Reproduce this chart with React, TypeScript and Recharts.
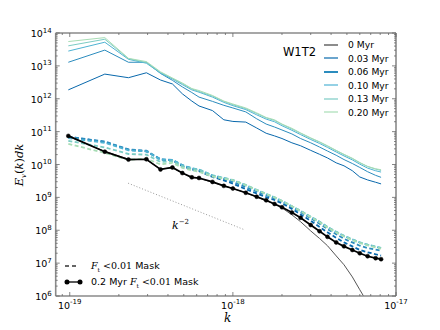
import React from "react";
import { LineChart, Line, XAxis, YAxis } from "recharts";

// bin centres of k
const K = [
  0.98e-19, 1.64e-19, 2.29e-19, 2.95e-19, 3.6e-19, 4.26e-19, 4.9e-19, 5.6e-19,
  6.2e-19, 7.5e-19, 8.8e-19, 1.0e-18, 1.2e-18, 1.4e-18, 1.6e-18, 1.8e-18,
  2.0e-18, 2.3e-18, 2.6e-18, 3.0e-18, 3.4e-18, 3.8e-18, 4.3e-18, 4.8e-18,
  5.4e-18, 6.0e-18, 6.7e-18, 7.5e-18, 8.1e-18,
];

// all spectra below are log10(E_v(k) dk)
// full box, solid lines
const FULL_0 = [10.86, 10.4, 10.16, 10.15, 9.86, 9.9, 9.74, 9.6, 9.58, 9.46, 9.35, 9.27, 9.14, 9.01, 8.9, 8.79, 8.68, 8.47, 8.26, 7.98, 7.75, 7.53, 7.22, 6.95, 6.58, 6.19, 5.79, null, null];
const FULL_003 = [12.27, 12.75, 12.64, 12.79, 12.57, 12.45, 12.15, 11.93, 11.78, 11.64, 11.36, 11.31, 11.29, 11.11, 10.95, 10.87, 10.79, 10.66, 10.57, 10.43, 10.31, 10.2, 10.05, 9.96, 9.81, 9.62, 9.53, 9.46, 9.41];
const FULL_006 = [13.11, 13.48, 13.11, 13.11, 12.77, 12.56, 12.36, 12.19, 12.05, 11.92, 11.8, 11.72, 11.6, 11.39, 11.23, 11.14, 11.05, 10.93, 10.79, 10.66, 10.53, 10.41, 10.28, 10.15, 10.03, 9.91, 9.78, 9.67, 9.61];
const FULL_010 = [13.45, 13.72, 13.2, 13.08, 12.78, 12.6, 12.43, 12.27, 12.2, 12.05, 11.89, 11.79, 11.67, 11.51, 11.38, 11.3, 11.18, 11.04, 10.91, 10.76, 10.64, 10.52, 10.38, 10.26, 10.14, 10.01, 9.89, 9.81, 9.77];
const FULL_013 = [13.61, 13.81, 13.22, 13.1, 12.8, 12.62, 12.46, 12.3, 12.22, 12.08, 11.92, 11.82, 11.7, 11.55, 11.42, 11.34, 11.22, 11.08, 10.95, 10.8, 10.68, 10.56, 10.42, 10.3, 10.18, 10.05, 9.94, 9.86, 9.82];
const FULL_020 = [13.74, 13.86, 13.23, 13.13, 12.82, 12.63, 12.48, 12.31, 12.25, 12.1, 11.93, 11.84, 11.72, 11.57, 11.43, 11.36, 11.23, 11.1, 10.96, 10.81, 10.69, 10.57, 10.43, 10.31, 10.19, 10.06, 9.94, 9.87, 9.84];

// F_t < 0.01 mask, dashed lines
const MASK_003 = [10.85, 10.68, 10.45, 10.4, 10.15, 10.12, 9.95, 9.85, 9.8, 9.62, 9.52, 9.42, 9.25, 9.12, 9.01, 8.92, 8.82, 8.65, 8.48, 8.29, 8.1, 7.94, 7.77, 7.63, 7.51, 7.4, 7.33, 7.27, 7.23];
const MASK_006 = [10.84, 10.7, 10.46, 10.42, 10.16, 10.14, 9.98, 9.88, 9.83, 9.66, 9.56, 9.47, 9.31, 9.18, 9.07, 8.97, 8.87, 8.71, 8.55, 8.37, 8.2, 8.04, 7.88, 7.74, 7.63, 7.53, 7.46, 7.41, 7.38];
const MASK_010 = [10.8, 10.66, 10.43, 10.4, 10.15, 10.14, 9.98, 9.89, 9.85, 9.67, 9.59, 9.52, 9.37, 9.22, 9.1, 9.0, 8.89, 8.73, 8.59, 8.41, 8.26, 8.1, 7.95, 7.83, 7.72, 7.63, 7.56, 7.5, 7.46];
const MASK_013 = [10.72, 10.52, 10.32, 10.3, 10.08, 10.1, 9.95, 9.87, 9.84, 9.67, 9.59, 9.53, 9.38, 9.23, 9.11, 9.0, 8.89, 8.73, 8.59, 8.41, 8.26, 8.1, 7.95, 7.83, 7.72, 7.63, 7.56, 7.5, 7.46];
const MASK_020 = [10.63, 10.35, 10.14, 10.18, 10.0, 10.05, 9.9, 9.82, 9.78, 9.63, 9.57, 9.52, 9.37, 9.22, 9.1, 9.0, 8.89, 8.73, 8.58, 8.4, 8.24, 8.08, 7.93, 7.81, 7.7, 7.61, 7.54, 7.48, 7.44];

// 0.2 Myr, F_t < 0.01 mask (black, dots)
const MASK_BLACK = [10.87, 10.39, 10.15, 10.16, 9.85, 9.91, 9.74, 9.61, 9.59, 9.47, 9.35, 9.27, 9.14, 9.02, 8.91, 8.8, 8.7, 8.54, 8.38, 8.16, 7.97, 7.8, 7.63, 7.51, 7.4, 7.3, 7.21, 7.15, 7.12];

// k^-2 guide
const SLOPE_K = [2.28e-19, 1.186e-18];
const SLOPE_E = [2.7e9, 1.02e8];

const TIMES = ["0 Myr", "0.03 Myr", "0.06 Myr", "0.10 Myr", "0.13 Myr", "0.20 Myr"];
const COLORS = ["#555555", "#0868ac", "#2b8cbe", "#4eb3d3", "#7bccc4", "#a8ddb5"];

const X_MAJOR = [1e-19, 1e-18, 1e-17];
const Y_MAJOR = [1e6, 1e7, 1e8, 1e9, 1e10, 1e11, 1e12, 1e13, 1e14];
const X_DOMAIN = [8.2e-20, 1e-17];
const Y_DOMAIN = [1e6, 1e14];

const FULL = [FULL_0, FULL_003, FULL_006, FULL_010, FULL_013, FULL_020];
const MASK = [null, MASK_003, MASK_006, MASK_010, MASK_013, MASK_020];

const rows = K.map((k, i) => {
  const r: Record<string, number | null> = { k };
  FULL.forEach((s, j) => (r["f" + j] = s[i] == null ? null : Math.pow(10, s[i] as number)));
  MASK.forEach((s, j) => {
    if (s) r["m" + j] = Math.pow(10, s[i]);
  });
  r.b = Math.pow(10, MASK_BLACK[i]);
  return r;
});
const slopeRows = SLOPE_K.map((k, i) => ({ k, s: SLOPE_E[i] }));

// minor ticks at 2..9 of each decade inside the domain
const minors = (majors: number[], lo: number, hi: number) => {
  const out: number[] = [];
  for (const m of [majors[0] / 10, ...majors]) {
    for (let n = 1; n < 10; n++) {
      const v = m * n;
      if (v >= lo * 0.999 && v <= hi * 1.001) out.push(v);
    }
  }
  return out;
};
const X_TICKS = minors(X_MAJOR, X_DOMAIN[0], X_DOMAIN[1]);
const Y_TICKS = minors(Y_MAJOR, Y_DOMAIN[0], Y_DOMAIN[1]);

const isMajor = (v: number) => Math.abs(Math.log10(v) - Math.round(Math.log10(v))) < 1e-6;
const FRAME = "#8a8a8a";
const TICK = "#666";
const SANS = "DejaVu Sans, sans-serif";
const SERIF = "DejaVu Serif, serif";

function XTick(props: any) {
  const { x, y, payload, side } = props;
  const v = payload.value;
  const major = isMajor(v);
  const len = major ? 4 : 2;
  const dir = side === "top" ? 1 : -1;
  return (
    <g>
      <line x1={x} x2={x} y1={y} y2={y + dir * len} stroke={TICK} strokeWidth={0.8} />
      {major && side !== "top" && (
        <text x={x} y={y + 12.5} textAnchor="middle" fontFamily={SANS} fontSize={9.5} fill="#000">
          <tspan>10</tspan>
          <tspan dy={-4.5} fontSize={7}>{Math.round(Math.log10(v))}</tspan>
        </text>
      )}
    </g>
  );
}

function YTick(props: any) {
  const { x, y, payload, side } = props;
  const v = payload.value;
  const major = isMajor(v);
  const len = major ? 4 : 2;
  const dir = side === "right" ? -1 : 1;
  return (
    <g>
      <line x1={x} x2={x + dir * len} y1={y} y2={y} stroke={TICK} strokeWidth={0.8} />
      {major && side !== "right" && (
        <text x={x - 4} y={y + 4} textAnchor="end" fontFamily={SANS} fontSize={9.5} fill="#000">
          <tspan>10</tspan>
          <tspan dy={-4.5} fontSize={7}>{Math.round(Math.log10(v))}</tspan>
        </text>
      )}
    </g>
  );
}

const Handle = ({ color, width = 1.2, dash }: { color: string; width?: number; dash?: string }) => (
  <svg width={16} height={6} style={{ display: "block" }}>
    <line x1={1} x2={15} y1={3} y2={3} stroke={color} strokeWidth={width} strokeDasharray={dash} />
  </svg>
);

const Ft = () => (
  <span style={{ fontFamily: SERIF }}>
    <i>F</i>
    <sub style={{ fontSize: 6 }}>t</sub> &lt;0.01
  </span>
);

const axisCommon = {
  type: "number" as const,
  scale: "log" as const,
  allowDataOverflow: true,
  interval: 0 as const,
  tickLine: false,
  tickSize: 0,
  tickMargin: 0,
  axisLine: { stroke: FRAME, strokeWidth: 1.6 },
};

export default function App() {
  return (
    <div style={{ position: "absolute", left: 0, top: 0, width: 440, height: 330, background: "#fff" }}>
      <LineChart width={440} height={330} data={rows} margin={{ top: 32, right: 43, bottom: 33, left: 54.7 }}>
        <XAxis {...axisCommon} xAxisId="b" dataKey="k" domain={X_DOMAIN} ticks={X_TICKS}
          tick={<XTick side="bottom" />} height={1} />
        <XAxis {...axisCommon} xAxisId="t" orientation="top" dataKey="k" domain={X_DOMAIN} ticks={X_TICKS}
          tick={<XTick side="top" />} height={1} />
        <YAxis {...axisCommon} yAxisId="l" domain={Y_DOMAIN} ticks={Y_TICKS}
          tick={<YTick side="left" />} width={1} />
        <YAxis {...axisCommon} yAxisId="r" orientation="right" domain={Y_DOMAIN} ticks={Y_TICKS}
          tick={<YTick side="right" />} width={1} />

        <Line xAxisId="b" yAxisId="l" data={slopeRows} dataKey="s" stroke="#999" strokeWidth={1}
          strokeDasharray="1 2" dot={false} isAnimationActive={false} />

        {FULL.map((_, j) => (
          <Line key={"f" + j} xAxisId="b" yAxisId="l" dataKey={"f" + j} stroke={COLORS[j]}
            strokeWidth={1} dot={false} isAnimationActive={false} />
        ))}
        {MASK.map((s, j) =>
          s ? (
            <Line key={"m" + j} xAxisId="b" yAxisId="l" dataKey={"m" + j} stroke={COLORS[j]}
              strokeWidth={1.8} strokeDasharray="4 2.5" dot={false} isAnimationActive={false} />
          ) : null
        )}
        <Line xAxisId="b" yAxisId="l" dataKey="b" stroke="#000" strokeWidth={1.7}
          dot={{ r: 2, fill: "#000", stroke: "#000", strokeWidth: 0.5 }} isAnimationActive={false} />
      </LineChart>

      {/* k^-2 label */}
      <div style={{ position: "absolute", left: 172, top: 218, fontFamily: SERIF, fontSize: 11, fontStyle: "italic" }}>
        k<sup style={{ fontSize: 7, fontStyle: "normal" }}>−2</sup>
      </div>

      {/* axis labels */}
      <div style={{ position: "absolute", left: 224, top: 311, fontFamily: SERIF, fontSize: 12, fontStyle: "italic", lineHeight: "14px" }}>k</div>
      <div style={{
        position: "absolute", left: 20, top: 165, transform: "translate(-50%, -50%) rotate(-90deg)",
        fontFamily: SERIF, fontSize: 11.5, whiteSpace: "nowrap",
      }}>
        <i>E</i><sub style={{ fontSize: 7 }}><i>v</i></sub>(<i>k</i>)<i>dk</i>
      </div>

      {/* time legend */}
      <div style={{ position: "absolute", left: 283, top: 45, fontFamily: SANS, fontSize: 11.5 }}>W1T2</div>
      {TIMES.map((t, j) => (
        <div key={t} style={{ position: "absolute", left: 323, top: 38 + j * 13.5, display: "flex", alignItems: "center", height: 13 }}>
          <Handle color={j === 0 ? "#8c8c8c" : COLORS[j]} width={j === 0 || j === 2 ? 2 : 1.2} />
          <span style={{ marginLeft: 9, fontFamily: SANS, fontSize: 9.2 }}>{t}</span>
        </div>
      ))}

      {/* mask legend */}
      <div style={{ position: "absolute", left: 64, top: 259, display: "flex", alignItems: "center", height: 14, fontFamily: SANS, fontSize: 9.5 }}>
        <Handle color="#333" width={1.5} dash="4 3" />
        <span style={{ marginLeft: 11 }}><Ft /> Mask</span>
      </div>
      <div style={{ position: "absolute", left: 64, top: 275, display: "flex", alignItems: "center", height: 14, fontFamily: SANS, fontSize: 9.5 }}>
        <svg width={20} height={8} style={{ display: "block" }}>
          <line x1={3} x2={16} y1={4} y2={4} stroke="#000" strokeWidth={1.3} />
          <circle cx={3} cy={4} r={2.5} fill="#000" />
          <circle cx={16} cy={4} r={2.5} fill="#000" />
        </svg>
        <span style={{ marginLeft: 7 }}>0.2 Myr <Ft /> Mask</span>
      </div>
    </div>
  );
}
